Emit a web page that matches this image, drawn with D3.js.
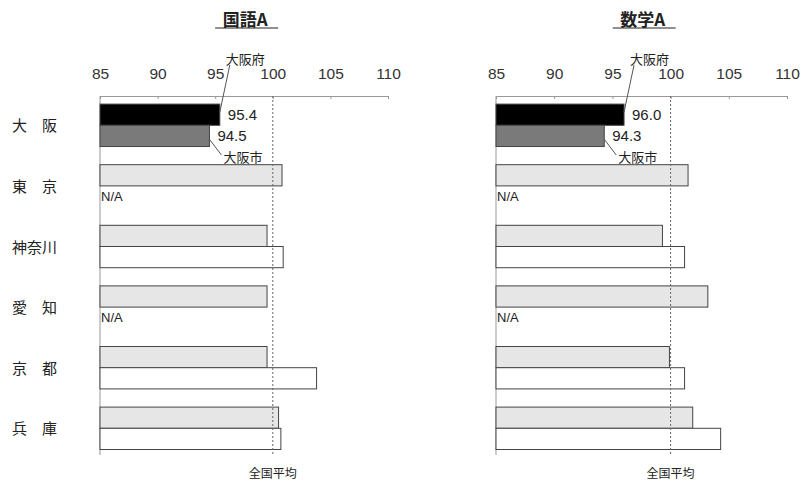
<!DOCTYPE html>
<html lang="ja">
<head>
<meta charset="UTF-8">
<title>国語A・数学A</title>
<script src="https://d3js.org/d3.v7.min.js"></script>
<style>
    body { margin: 0; background: #fff; }
    svg text { fill: #222; }
    .tick text { font-family: "Liberation Sans", Arial, sans-serif; font-size: 15.5px; fill: #333; }
    .na { font-family: "Liberation Sans", Arial, sans-serif; font-size: 13px; }
    .val { font-family: "Liberation Sans", Arial, sans-serif; font-size: 15px; }
    .jp { font-family: "Noto Sans CJK JP", sans-serif; }
</style>
</head>
<body>
<div id="chart"></div>
<script>
const prefs = ["大　阪", "東　京", "神奈川", "愛　知", "京　都", "兵　庫"];
const subjects = ["国語A", "数学A"];
// 上: 都道府県, 下: 市 (null = N/A)
const kokugoPref = [95.4, 100.8, 99.5, 99.5, 99.5, 100.5];
const kokugoCity = [94.5, null, 100.9, null, 103.8, 100.7];
const sugakuPref = [96.0, 101.5, 99.3, 103.2, 99.9, 101.9];
const sugakuCity = [94.3, null, 101.2, null, 101.2, 104.3];
const tickValues = [85, 90, 95, 100, 105, 110];
const nationalAvg = 100;

const W = 801, H = 482;
const svg = d3.select("#chart").append("svg").attr("width", W).attr("height", H);

const y = d3.scaleBand().domain(prefs).range([95, 458.6])
    .paddingInner(0.3).paddingOuter(0.15);
const sub = d3.scaleBand().domain(["pref", "city"]).range([0, y.bandwidth()]);

const panels = [
    { title: subjects[0], pref: kokugoPref, city: kokugoCity, x0: 100, x1: 388, labels: true },
    { title: subjects[1], pref: sugakuPref, city: sugakuCity, x0: 496, x1: 787, labels: false }
];

panels.forEach(p => {
    const x = d3.scaleLinear().domain([85, 110]).range([p.x0, p.x1]);
    const g = svg.append("g");

    // title
    const tx = x(97.6);
    g.append("text").attr("class", "jp").attr("x", tx).attr("y", 26)
        .attr("text-anchor", "middle").style("font-size", "17px").style("font-weight", "bold")
        .text(p.title);
    g.append("line").attr("x1", tx - 30).attr("x2", tx + 33).attr("y1", 28).attr("y2", 28)
        .attr("stroke", "#222").attr("stroke-width", 1.2);

    // axis
    const ax = g.append("g").attr("transform", "translate(0,96)")
        .call(d3.axisTop(x).tickValues(tickValues).tickSize(-3).tickPadding(17));
    ax.select(".domain").attr("stroke", "#999");
    ax.selectAll(".tick line").attr("stroke", "#999");

    g.append("line").attr("x1", p.x0).attr("x2", p.x0).attr("y1", 96).attr("y2", 455)
        .attr("stroke", "#999");

    // bars
    const rows = prefs.map((d, i) => ({ name: d, i, pref: p.pref[i], city: p.city[i] }));
    rows.forEach(r => {
        [["pref", r.pref], ["city", r.city]].forEach(([k, v]) => {
            const yy = y(r.name) + sub(k);
            if (v == null) {
                g.append("text").attr("class", "na").attr("x", p.x0 + 1).attr("y", yy + 15).text("N/A");
                return;
            }
            let fill = k === "pref" ? "#e6e6e6" : "#fff";
            if (r.i === 0) fill = k === "pref" ? "#000" : "#7a7a7a";
            g.append("rect").attr("x", x(85)).attr("y", yy)
                .attr("width", x(v) - x(85)).attr("height", sub.bandwidth())
                .attr("fill", fill).attr("stroke", "#444").attr("stroke-width", 1);
        });
    });

    // national average
    g.append("line").attr("x1", x(nationalAvg)).attr("x2", x(nationalAvg))
        .attr("y1", 96).attr("y2", 456)
        .attr("stroke", "#666").attr("stroke-dasharray", "2,2");
    g.append("text").attr("class", "jp").attr("x", x(nationalAvg)).attr("y", 478)
        .attr("text-anchor", "middle").style("font-size", "12px").text("全国平均");

    // Osaka annotations
    const y0 = y(prefs[0]);
    const vp = p.pref[0], vc = p.city[0];
    g.append("text").attr("class", "val").attr("x", x(vp) + 8).attr("y", y0 + sub("pref") + 16).text(vp.toFixed(1));
    g.append("text").attr("class", "val").attr("x", x(vc) + 8).attr("y", y0 + sub("city") + 16).text(vc.toFixed(1));

    g.append("line").attr("x1", x(vp) + 10).attr("y1", 65).attr("x2", x(vp)).attr("y2", y0 + 8)
        .attr("stroke", "#555");
    g.append("text").attr("class", "jp").attr("x", x(vp) + 6).attr("y", 64).style("font-size", "13px").text("大阪府");

    g.append("line").attr("x1", x(vc)).attr("y1", y0 + sub("city") + 14).attr("x2", x(vc) + 12).attr("y2", 155)
        .attr("stroke", "#555");
    g.append("text").attr("class", "jp").attr("x", x(vc) + 14).attr("y", 162).style("font-size", "13px").text("大阪市");

    if (p.labels) {
        g.selectAll(".cat").data(prefs).join("text").attr("class", "jp cat")
            .attr("x", 12).attr("y", d => y(d) + y.bandwidth() / 2 + 6)
            .style("font-size", "15px").text(d => d);
    }
});
</script>
</body>
</html>
